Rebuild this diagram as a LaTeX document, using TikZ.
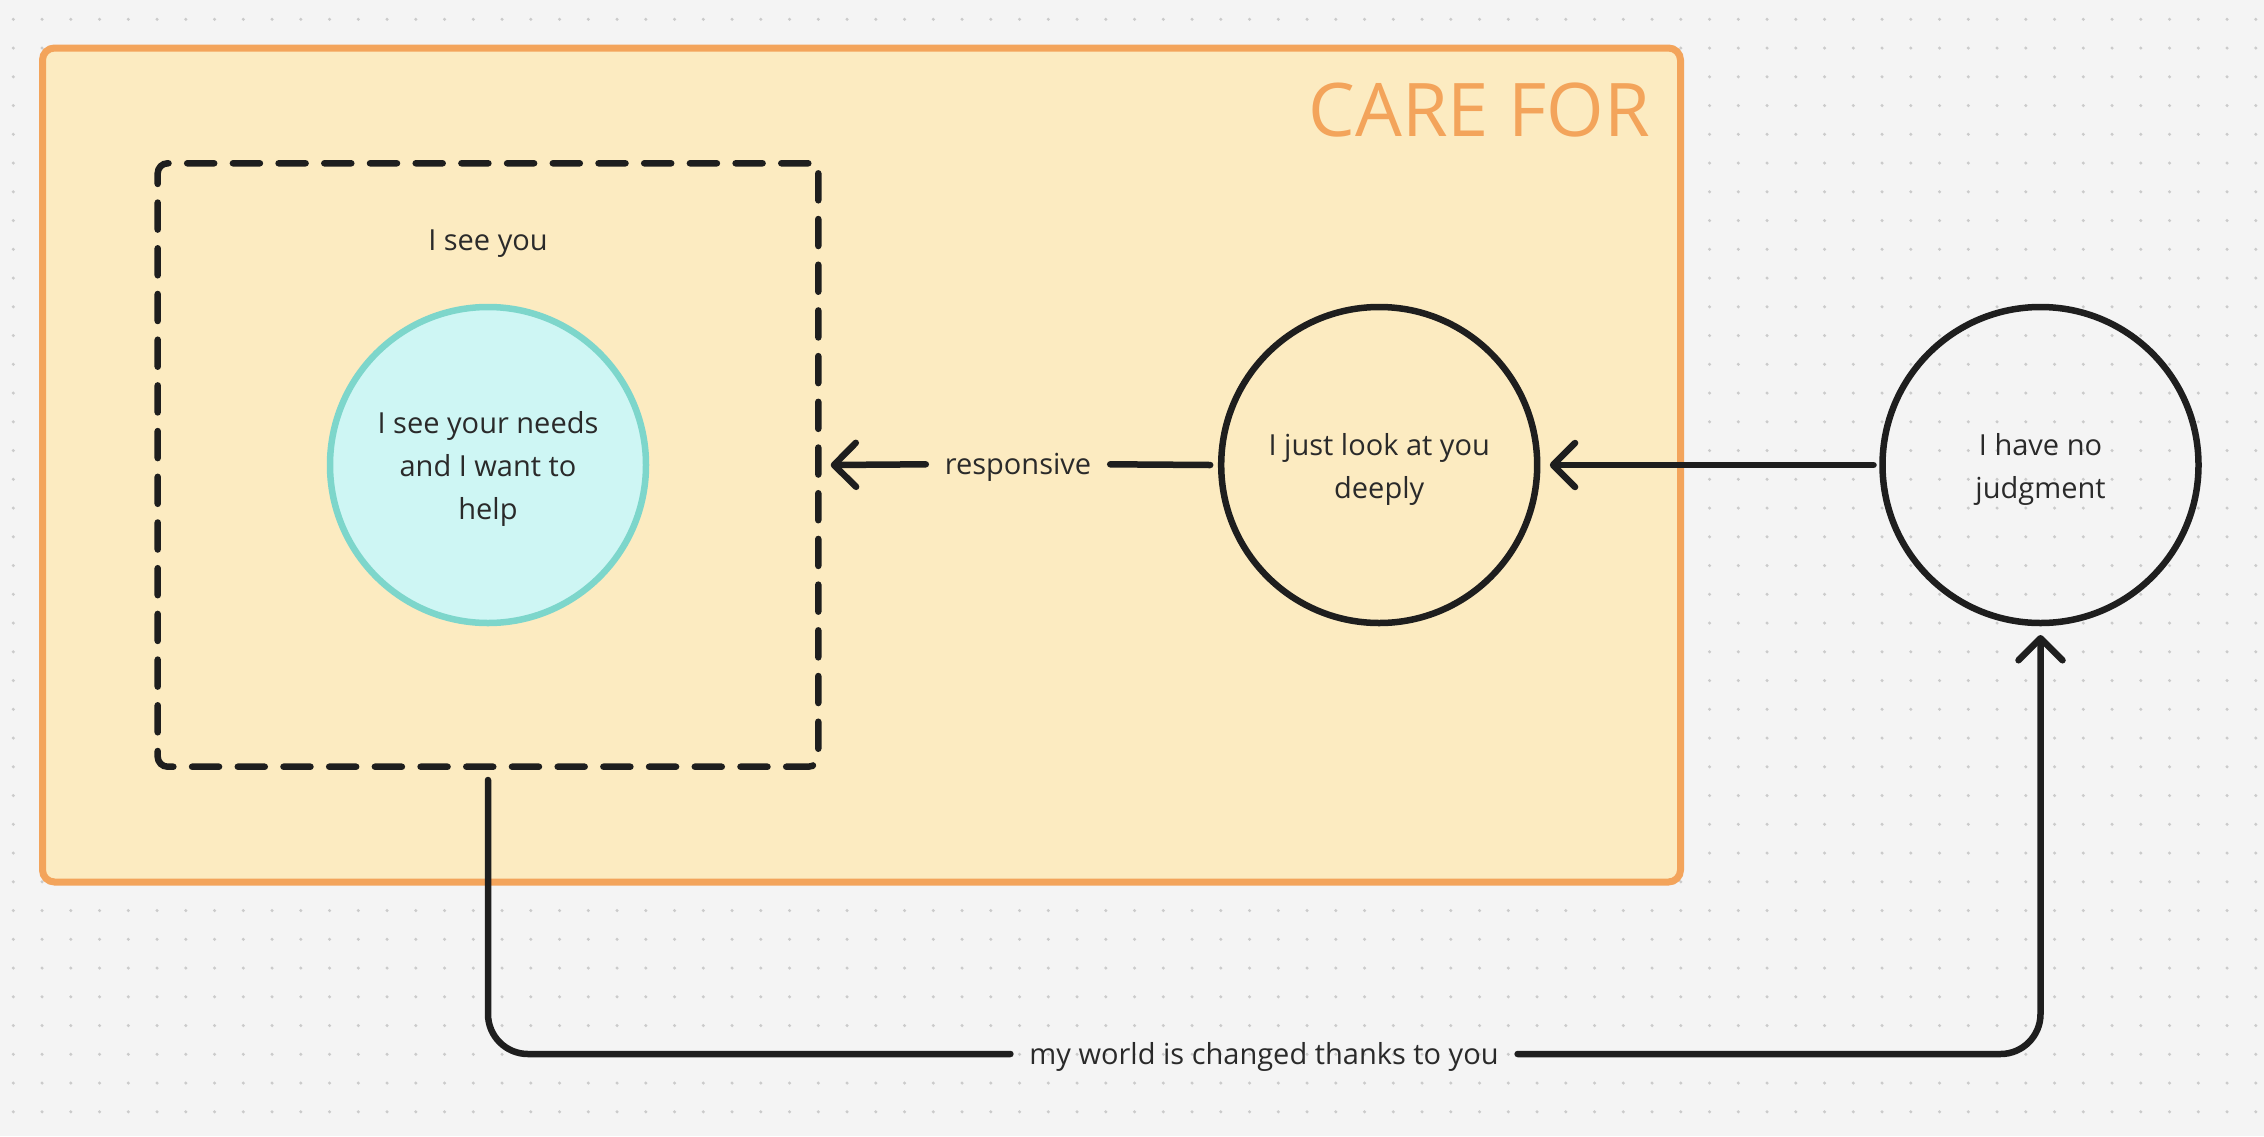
\documentclass[tikz,border=0pt]{standalone}
\usepackage{fontspec}
\setmainfont{Open Sans}
\usetikzlibrary{arrows.meta}
\definecolor{bg}{HTML}{F4F4F4}
\definecolor{dotc}{HTML}{CBCBCB}
\definecolor{frameo}{HTML}{F3A45B}
\definecolor{cream}{HTML}{FCEBC1}
\definecolor{tealb}{HTML}{7DD6CB}
\definecolor{tealf}{HTML}{CEF6F4}
\definecolor{ink}{HTML}{1E1E1E}
\definecolor{txt}{HTML}{2A2A2A}
\newcommand{\topstrut}{\rule{0pt}{30pt}}
\tikzset{
  bodyfont/.style={font=\fontsize{29}{43}\selectfont, text=txt},
  bubble/.style={circle, draw=ink, line width=6.5pt, minimum size=316pt, inner sep=0pt, outer sep=0pt, align=center, bodyfont},
  conn/.style={draw=ink, line width=6.5pt, line cap=round, line join=round},
  barb/.tip={Straight Barb[length=22pt,width=44pt,round]},
  lbl/.style={inner xsep=19pt, inner ysep=0pt, text height=21pt, text depth=0pt, outer sep=0pt, bodyfont},
}
\begin{document}
\begin{tikzpicture}[x=1pt,y=-1pt]
\fill[bg] (0,0) rectangle (2264,1136);
\useasboundingbox (0,0) rectangle (2264,1136);
\foreach \i in {0,...,78}{
  \foreach \j in {0,...,38}{
    \fill[dotc] (13.3+28.75*\i, 19.3+28.75*\j) circle (1.7pt);
  }
}
% frame
\node[draw=frameo, fill=cream, line width=7pt, rounded corners=12pt, minimum width=1638pt, minimum height=834pt, inner sep=0pt, outer sep=0pt] (frame) at (861.5,465) {};
\node[anchor=base east, inner sep=0pt, text=frameo, font=\fontsize{74}{80}\selectfont] (title) at (1650,136.7) {CARE FOR};
% dashed box
\node[draw=ink, line width=6.5pt, line cap=round, dash pattern=on 27pt off 18.7pt, rounded corners=10pt, minimum width=660.6pt, minimum height=603.4pt, inner sep=0pt, outer sep=0pt] (box) at (488,465) {};
\node[anchor=base, inner sep=0pt, bodyfont] (seeyou) at (488,250.5) {I see you};
% circles
\node[bubble, draw=tealb, fill=tealf] (c1) at (488,465) {\topstrut I see your needs\\and I want to\\help};
\node[bubble] (c2) at (1379.2,465) {\topstrut I just look at you\\deeply};
\node[bubble] (c3) at (2040.5,465) {\topstrut I have no\\judgment};
% connectors
\node[lbl] (resp) at (1018,464.3) {responsive};
\draw[conn] ([xshift=-11pt]c2.west) -- (resp.east);
\draw[conn, -{barb}] (resp.west) -- ([xshift=12.4pt]box.east);
\draw[conn, -{barb}] ([xshift=-9pt]c3.west) -- ([xshift=12.6pt]c2.east);
\node[lbl] (world) at (1264,1054) {my world is changed thanks to you};
\draw[conn, rounded corners=40pt] ([yshift=-13.3pt]box.south) |- (world.west);
\draw[conn, rounded corners=40pt, -{barb}] (world.east) -| ([yshift=-12pt]c3.south);
\end{tikzpicture}
\end{document}
